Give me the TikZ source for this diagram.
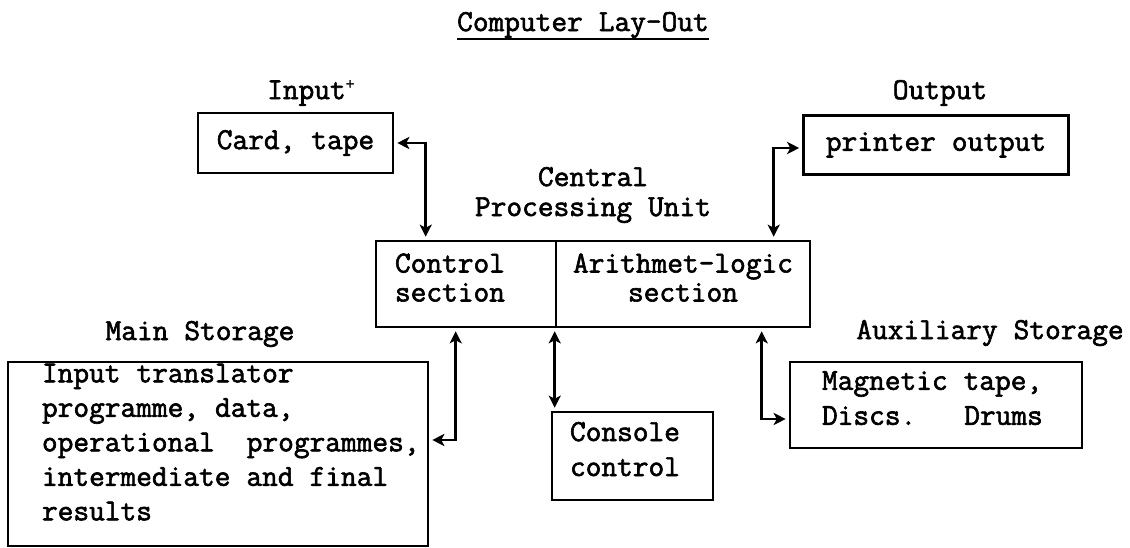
\documentclass[tikz,border=0pt]{standalone}
\usepackage{fontspec}
\setmonofont{Latin Modern Mono}[FakeBold=2,WordSpace={1,0,0}]
\usetikzlibrary{arrows.meta}
\newcommand{\lowpad}[1]{\rule[-#1]{0pt}{1pt}}
\newcommand{\twfont}[1]{\ttfamily\fontsize{30.5}{#1}\selectfont}
\begin{document}
\begin{tikzpicture}[x=1pt,y=-1pt,
  every node/.style={font=\twfont{35}, execute at begin node={\spaceskip=0.525em\relax\xspaceskip=0.525em\relax}},
  box/.style={draw, line width=2.6pt, inner sep=0pt},
  lbl/.style={inner sep=0pt},
  biarrow/.style={line width=2.6pt, {Stealth[length=12pt,width=12pt,inset=3pt]}-{Stealth[length=12pt,width=12pt,inset=3pt]}, shorten <=3pt, shorten >=3pt}
]
\useasboundingbox (0,0) rectangle (1130,548);

% title
\node[lbl] (title) at (583,25) {Computer Lay-Out};
\draw[line width=2.2pt] ([yshift=-1pt]title.south west) -- ([yshift=-1pt]title.south east);

% labels
\node[lbl, anchor=west] (inlbl) at (267,93) {Input\raisebox{10pt}{\fontsize{17}{17}\selectfont +}};
\node[lbl] (outlbl) at (940,93) {Output};
\node[lbl, align=center, font=\twfont{30}] (cpulbl) at (593,195) {Central\\Processing Unit};
\node[lbl] (mainlbl) at (200,334) {Main Storage};
\node[lbl] (auxlbl) at (990,333) {Auxiliary Storage};

% boxes
\node[box, minimum width=195pt, minimum height=60pt] (card) at (295.5,143) {Card, tape};
\node[box, minimum width=265pt, minimum height=59pt] (printer) at (936,145) {printer output};

\node[box, align=left, text width=142pt, inner xsep=19pt, minimum height=86pt,
      font=\twfont{29}] (ctrl) at (466,284) {Control\\section\lowpad{13pt}};
\node[box, align=center, text width=254pt, minimum height=86pt,
      font=\twfont{29}] (alu) at (683,284) {Arithmet-logic\\section\lowpad{13pt}};

\node[box, align=left, text width=352pt, inner xsep=34pt, minimum height=184pt,
      font=\twfont{34.5}] (main) at (218,454)
  {Input translator\\programme, data,\\\makebox[352pt][l]{operational\ \ programmes,}\\intermediate and final\\results\lowpad{24pt}};

\node[box, align=left, text width=125pt, inner xsep=18pt, minimum height=88pt] (console) at (632.5,456) {Console\\control\lowpad{14pt}};

\node[box, align=left, text width=228pt, inner xsep=32pt, minimum height=86pt] (mag) at (936,405) {Magnetic tape,\\Discs.\ \ \ Drums\lowpad{14pt}};

% connectors
\draw[biarrow] (card.east) -| ([xshift=51pt]ctrl.north west);
\draw[biarrow] ([yshift=-3pt]printer.west) -| ([xshift=219pt]alu.north west);
\draw[biarrow] ([yshift=14pt]main.east) -| ([xshift=81pt]ctrl.south west);
\draw[biarrow] (alu.south west) -- (alu.south west |- console.north);
\draw[biarrow] ([yshift=-14pt]mag.west) -| ([xshift=207pt]alu.south west);
\end{tikzpicture}
\end{document}
